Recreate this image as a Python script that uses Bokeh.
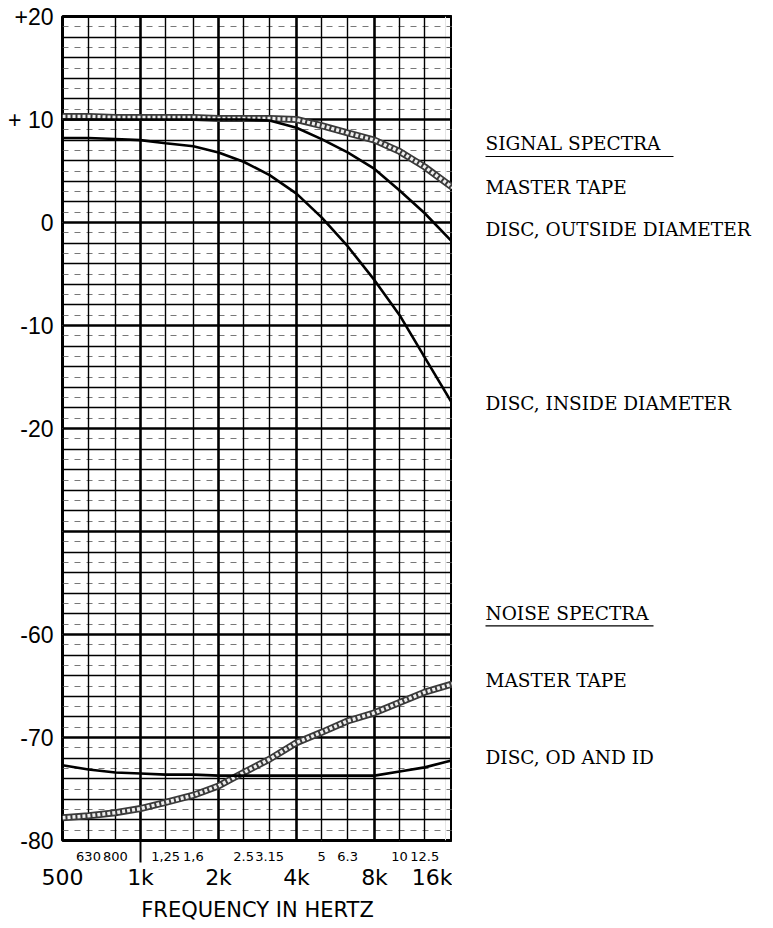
from bokeh.plotting import figure
from bokeh.layouts import row
from bokeh.models import FixedTicker, Range1d, LogAxis, LinearAxis, Grid, ColumnDataSource
from bokeh.embed import file_html
from bokeh.resources import INLINE
from bokeh.core.properties import value

# ---------------- data ----------------
freqs = [500, 630, 800, 1000, 1250, 1600, 2000, 2500, 3150, 4000,
         5000, 6300, 8000, 10000, 12500, 16000]

signal_master_tape = [10.3, 10.3, 10.2, 10.2, 10.2, 10.2, 10.1, 10.1, 10.1, 10.0,
                      9.4, 8.7, 8.0, 6.9, 5.4, 3.4]
signal_disc_od = [10.0, 10.0, 10.0, 10.0, 10.0, 10.0, 10.0, 10.0, 9.9, 9.2,
                  8.1, 6.8, 5.2, 3.1, 0.9, -1.9]
signal_disc_id = [8.2, 8.2, 8.1, 8.0, 7.7, 7.4, 6.8, 5.9, 4.6, 2.8,
                  0.5, -2.3, -5.6, -9.0, -13.1, -17.6]

noise_master_tape = [-77.8, -77.6, -77.3, -76.9, -76.3, -75.6, -74.7, -73.4, -72.1, -70.5,
                     -69.5, -68.4, -67.6, -66.6, -65.6, -64.8]
noise_disc = [-72.7, -73.1, -73.4, -73.5, -73.6, -73.6, -73.7, -73.7, -73.7, -73.7,
              -73.7, -73.7, -73.7, -73.3, -72.9, -72.2]

octave_freqs = [500, 1000, 2000, 4000, 8000, 16000]
octave_labels = ["500", "1k", "2k", "4k", "8k", "16k"]
third_freqs = [630, 800, 1250, 1600, 2500, 3150, 5000, 6300, 10000, 12500]
third_labels = ["630", "800", "1,25", "1,6", "2.5", "3.15", "5", "6.3", "10", "12.5"]

signal_levels = [20, 10, 0, -10, -20]
signal_level_labels = ["+20", "+ 10", "0", "-10", "-20"]
noise_levels = [-60, -70, -80]
noise_level_labels = ["-60", "-70", "-80"]

signal_names = ["MASTER TAPE", "DISC, OUTSIDE DIAMETER", "DISC, INSIDE DIAMETER"]
noise_names = ["MASTER TAPE", "DISC, OD AND ID"]
signal_header = "SIGNAL SPECTRA"
noise_header = "NOISE SPECTRA"

# ---------------- layout constants ----------------
NOISE_SHIFT = 20          # broken axis: noise section drawn 20 dB higher
Y_TOP, Y_BOT = 20, -60    # display coordinates
FRAME_W, FRAME_H = 390, 824
PPU = FRAME_H / (Y_TOP - Y_BOT)   # pixels per dB

yr = Range1d(Y_BOT, Y_TOP)

p = figure(x_axis_type="log", x_range=Range1d(500, 16000), y_range=yr,
           frame_width=FRAME_W, frame_height=FRAME_H,
           min_border_left=62, min_border_right=0, min_border_top=16, min_border_bottom=80,
           x_axis_location=None, y_axis_location=None,
           toolbar_location=None, output_backend="svg")
p.outline_line_color = "black"
p.outline_line_width = 3
p.background_fill_color = "white"
p.border_fill_color = "white"

# ---------------- grid ----------------
disp_major = list(range(Y_BOT + 10, Y_TOP, 10))
disp_minor = [v for v in range(Y_BOT + 2, Y_TOP, 2) if v % 10 != 0]
disp_dash = list(range(Y_BOT + 1, Y_TOP, 2))

p.add_layout(Grid(dimension=1, ticker=FixedTicker(ticks=disp_dash),
                  grid_line_color="#555555", grid_line_width=0.8, grid_line_dash="6 6"))
p.add_layout(Grid(dimension=1, ticker=FixedTicker(ticks=disp_minor),
                  grid_line_color="black", grid_line_width=1.4))
p.add_layout(Grid(dimension=1, ticker=FixedTicker(ticks=disp_major),
                  grid_line_color="black", grid_line_width=2.6))
p.add_layout(Grid(dimension=0, ticker=FixedTicker(ticks=third_freqs),
                  grid_line_color="black", grid_line_width=1.4))
p.add_layout(Grid(dimension=0, ticker=FixedTicker(ticks=octave_freqs[1:-1]),
                  grid_line_color="black", grid_line_width=2.6))

# ---------------- axes ----------------
y_ticks = signal_levels + [v + NOISE_SHIFT for v in noise_levels]
y_labels = signal_level_labels + noise_level_labels
yaxis = LinearAxis(ticker=FixedTicker(ticks=y_ticks),
                   major_label_overrides={t: l for t, l in zip(y_ticks, y_labels)},
                   axis_line_color=None, major_tick_line_color=None, minor_tick_line_color=None,
                   major_tick_out=0, major_tick_in=0, major_label_standoff=9,
                   major_label_text_font="Liberation Sans", major_label_text_font_size="23px",
                   major_label_text_color="black")
p.add_layout(yaxis, "left")

axis_small = LogAxis(ticker=FixedTicker(ticks=third_freqs, minor_ticks=[1000]),
                     major_label_overrides={f: l for f, l in zip(third_freqs, third_labels)},
                     axis_line_color=None, major_tick_line_color=None,
                     major_tick_out=0, major_tick_in=0,
                     minor_tick_line_color="black", minor_tick_line_width=2,
                     minor_tick_out=22, minor_tick_in=0,
                     major_label_standoff=-11,
                     major_label_text_font="DejaVu Sans", major_label_text_font_size="13px",
                     major_label_text_color="black")
p.add_layout(axis_small, "below")

axis_big = LogAxis(ticker=FixedTicker(ticks=octave_freqs),
                   major_label_overrides={f: l for f, l in zip(octave_freqs, octave_labels)},
                   axis_line_color=None, major_tick_line_color=None, minor_tick_line_color=None,
                   major_tick_out=0, major_tick_in=0, major_label_standoff=1,
                   major_label_text_font="DejaVu Sans", major_label_text_font_size="22px",
                   major_label_text_color="black",
                   axis_label="FREQUENCY IN HERTZ", axis_label_standoff=5,
                   axis_label_text_font="DejaVu Sans", axis_label_text_font_size="21px",
                   axis_label_text_font_style="normal", axis_label_text_color="black")
p.add_layout(axis_big, "below")

# ---------------- curves ----------------
noise_mt_disp = [v + NOISE_SHIFT for v in noise_master_tape]
noise_disc_disp = [v + NOISE_SHIFT for v in noise_disc]

for ys in (signal_master_tape, noise_mt_disp):
    p.line(freqs, ys, line_width=7, line_color="#3a3a3a")
    p.line(freqs, ys, line_width=3.5, line_color="#eeeeee", line_dash="3 2")

for ys in (signal_disc_od, signal_disc_id, noise_disc_disp):
    p.line(freqs, ys, line_width=2.6, line_color="black")

# ---------------- right-hand labels ----------------
LEG_W = 310
p2 = figure(x_range=Range1d(0, LEG_W), y_range=yr,
            frame_width=LEG_W, frame_height=FRAME_H,
            min_border_left=0, min_border_right=0, min_border_top=16, min_border_bottom=80,
            x_axis_location=None, y_axis_location=None,
            toolbar_location=None, output_backend="svg")
p2.outline_line_color = None
p2.grid.visible = False
p2.background_fill_color = "white"
p2.border_fill_color = "white"

TEXT_X = 33
label_y = [signal_master_tape[-1], signal_disc_od[-1], signal_disc_id[-1],
           noise_mt_disp[-1], noise_disc_disp[-1]]
label_off = [0, -13, 0, -3, -3]
label_src = ColumnDataSource(dict(x=[TEXT_X] * 5, y=label_y, off=label_off,
                                  t=signal_names + noise_names))
p2.text(x="x", y="y", text="t", y_offset="off", source=label_src,
        text_font=value("DejaVu Serif"), text_font_size="18.5px",
        text_baseline="middle", text_align="left", text_color="black")

sig_head_y = signal_master_tape[-1] + 44 / PPU
noise_head_y = noise_mt_disp[-1] + 70 / PPU
head_src = ColumnDataSource(dict(x=[TEXT_X, TEXT_X], y=[sig_head_y, noise_head_y],
                                 t=[signal_header, noise_header]))
p2.text(x="x", y="y", text="t", source=head_src,
        text_font=value("DejaVu Serif"), text_font_size="18.5px",
        text_baseline="middle", text_align="left", text_color="black")

ul_src = ColumnDataSource(dict(x0=[TEXT_X, TEXT_X], x1=[TEXT_X + 188, TEXT_X + 168],
                               y=[sig_head_y - 13 / PPU, noise_head_y - 12 / PPU]))
p2.segment(x0="x0", y0="y", x1="x1", y1="y", source=ul_src,
           line_color="black", line_width=1.2)

layout = row(p, p2)
open("out.html", "w").write(file_html(layout, INLINE))
